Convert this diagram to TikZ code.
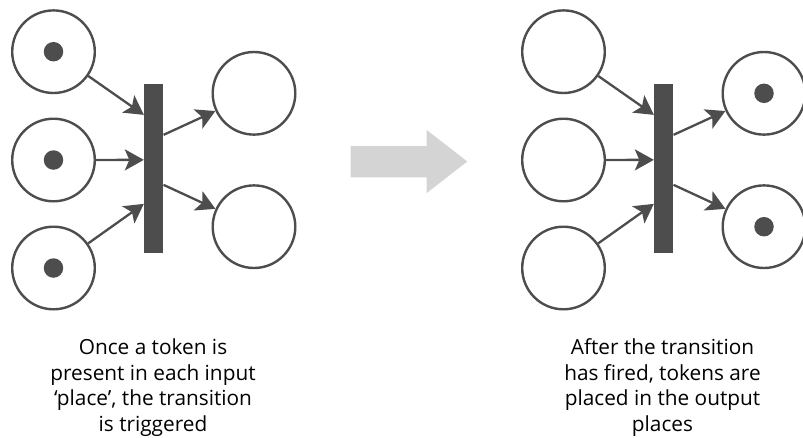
\documentclass[tikz,border=0pt]{standalone}
\usepackage{fontspec}
\setmainfont{Open Sans}
\usetikzlibrary{arrows.meta,calc}
\definecolor{ink}{HTML}{4D4D4D}
\definecolor{pale}{HTML}{D4D4D4}
\tikzset{
  place/.style={circle, draw=ink, line width=2.4pt, minimum size=82.6pt, inner sep=0pt},
  token/.style={circle, fill=ink, minimum size=19.5pt, inner sep=0pt},
  bar/.style={rectangle, fill=ink, minimum width=19.3pt, minimum height=169.3pt, inner sep=0pt},
  arc/.style={draw=ink, line width=2.3pt, -{Stealth[length=19pt, width=21pt, inset=4.5pt]}},
  caption/.style={align=center, anchor=base, font=\fontsize{20.8}{25.6}\selectfont, text=black, inner sep=0pt}
}
\begin{document}
\begin{tikzpicture}[x=1pt, y=-1pt]
\useasboundingbox (0,0) rectangle (803,437);

% before firing: tokens in the input places
\begin{scope}
  \node[place] (a1) at (53.5,51.7) {};
  \node[place] (a2) at (53.5,160) {};
  \node[place] (a3) at (53.5,268) {};
  \node[token] (ta1) at (a1) {};
  \node[token] (ta2) at (a2) {};
  \node[token] (ta3) at (a3) {};
  \node[place] (ao1) at (254,93.3) {};
  \node[place] (ao2) at (254,226.7) {};
  \node[bar] (abar) at (153.7,168.7) {};
  \coordinate (ai1) at ($(abar.north west)+(0,31)$);
  \coordinate (ai2) at ($(abar.north west)+(0,76)$);
  \coordinate (ai3) at ($(abar.north west)+(0,120)$);
  \coordinate (ae1) at ($(abar.north east)+(0,51)$);
  \coordinate (ae2) at ($(abar.north east)+(0,101)$);
  \draw[arc] (a1) -- (ai1);
  \draw[arc] (a2) -- (ai2);
  \draw[arc] (a3) -- (ai3);
  \draw[arc] (ae1) -- (ao1);
  \draw[arc] (ae2) -- (ao2);
  \node[caption] (acap) at (153,431.5) {Once a token is\\present in each input\\`place', the transition\\is triggered};
\end{scope}

% block arrow between the two states
\path[fill=pale] (350.7,146) -- (426.7,146) -- (426.7,130) -- (467.3,161.5)
  -- (426.7,193) -- (426.7,177.3) -- (350.7,177.3) -- cycle;

% after firing: tokens in the output places
\begin{scope}[xshift=510pt]
  \node[place] (b1) at (53.5,51.7) {};
  \node[place] (b2) at (53.5,160) {};
  \node[place] (b3) at (53.5,268) {};
  \node[place] (bo1) at (254,93.3) {};
  \node[place] (bo2) at (254,226.7) {};
  \node[token] (tb1) at (bo1) {};
  \node[token] (tb2) at (bo2) {};
  \node[bar] (bbar) at (153.7,168.7) {};
  \coordinate (bi1) at ($(bbar.north west)+(0,31)$);
  \coordinate (bi2) at ($(bbar.north west)+(0,76)$);
  \coordinate (bi3) at ($(bbar.north west)+(0,120)$);
  \coordinate (be1) at ($(bbar.north east)+(0,51)$);
  \coordinate (be2) at ($(bbar.north east)+(0,101)$);
  \draw[arc] (b1) -- (bi1);
  \draw[arc] (b2) -- (bi2);
  \draw[arc] (b3) -- (bi3);
  \draw[arc] (be1) -- (bo1);
  \draw[arc] (be2) -- (bo2);
  \node[caption] (bcap) at (152.5,431.5) {After the transition\\has fired, tokens are\\placed in the output\\places};
\end{scope}
\end{tikzpicture}
\end{document}
